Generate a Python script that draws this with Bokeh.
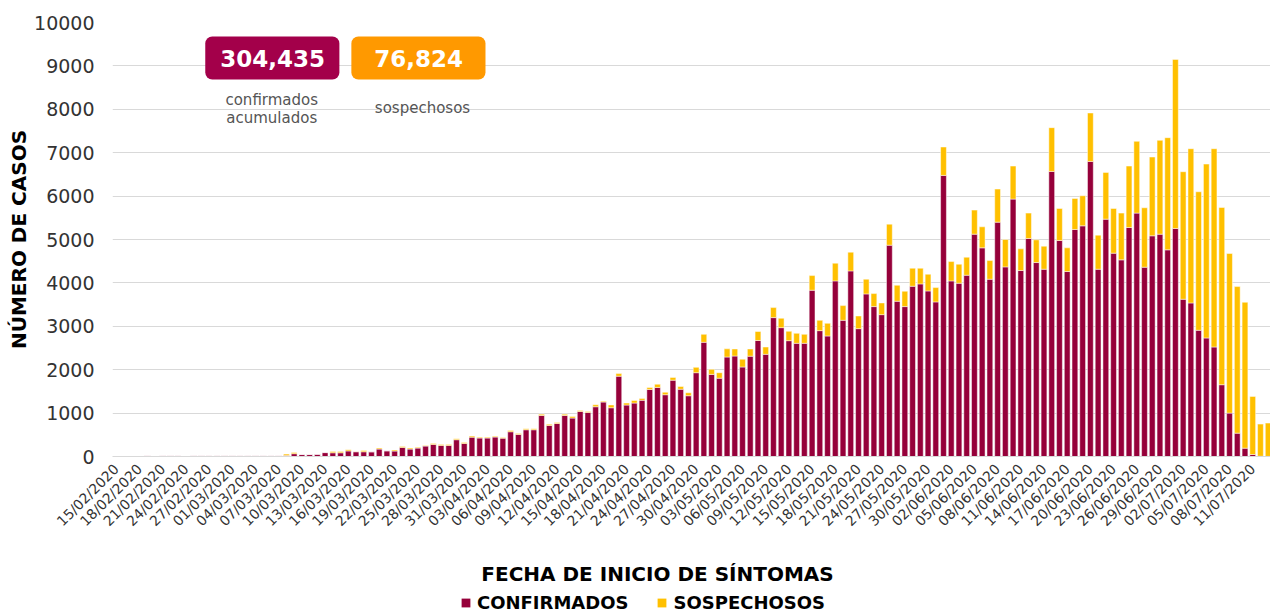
from bokeh.plotting import figure
from bokeh.layouts import column
from bokeh.models import (ColumnDataSource, FixedTicker, Legend, LegendItem,
                          Label, BoxAnnotation, Range1d)
from bokeh.embed import file_html
from bokeh.resources import INLINE

# ---------------- data ----------------
confirmados = [
    0, 0, 0, 0, 20, 0, 20, 20, 20, 0,
    20, 20, 20, 20, 20, 20, 20, 20, 20, 20,
    20, 20, 25, 65, 45, 45, 50, 90, 86, 86,
    128, 109, 109, 108, 170, 131, 125, 210, 170, 193,
    240, 279, 256, 256, 387, 302, 446, 425, 425, 448,
    423, 570, 508, 616, 616, 946, 716, 762, 946, 885,
    1038, 1015, 1146, 1254, 1123, 1850, 1185, 1231, 1296, 1546,
    1592, 1423, 1758, 1550, 1400, 1931, 2631, 1892, 1804, 2292,
    2315, 2062, 2311, 2673, 2354, 3200, 2969, 2669, 2608, 2608,
    3831, 2900, 2777, 4046, 3138, 4277, 2946, 3746, 3454, 3269,
    4869, 3577, 3454, 3923, 3977, 3815, 3562, 6477, 4046, 3992,
    4177, 5123, 4808, 4085, 5400, 4369, 5931, 4285, 5023, 4469,
    4315, 6569, 4977, 4262, 5231, 5315, 6800, 4315, 5469, 4685,
    4531, 5277, 5608, 4362, 5085, 5123, 4762, 5254, 3623, 3538,
    2908, 2731, 2523, 1654, 1000, 538, 192, 46, 5, 2,
]
sospechosos = [
    0, 0, 0, 0, 0, 0, 0, 0, 0, 0,
    0, 0, 0, 0, 0, 0, 0, 0, 0, 0,
    0, 0, 30, 29, 2, 2, 2, 4, 31, 31,
    28, 6, 28, 2, 24, 2, 25, 23, 24, 20,
    12, 23, 23, 23, 23, 23, 24, 21, 21, 20,
    17, 30, 20, 24, 24, 29, 26, 23, 29, 35,
    24, 23, 46, 21, 65, 60, 46, 61, 42, 44,
    73, 57, 65, 62, 69, 123, 184, 116, 127, 188,
    162, 180, 166, 207, 169, 231, 216, 216, 230, 207,
    338, 238, 292, 408, 339, 431, 292, 339, 300, 269,
    485, 369, 354, 415, 361, 385, 330, 654, 446, 439,
    415, 554, 484, 430, 762, 631, 761, 500, 585, 523,
    531, 1008, 738, 546, 715, 693, 1115, 785, 1077, 1030,
    1077, 1415, 1654, 1369, 1815, 2162, 2584, 3896, 2939, 3554,
    3192, 4007, 4569, 4084, 3677, 3377, 3362, 1339, 741, 768,
]
dia = list(range(len(confirmados)))  # day index from 15/02/2020

tick_labels = [
    "15/02/2020", "18/02/2020", "21/02/2020", "24/02/2020", "27/02/2020",
    "01/03/2020", "04/03/2020", "07/03/2020", "10/03/2020", "13/03/2020",
    "16/03/2020", "19/03/2020", "22/03/2020", "25/03/2020", "28/03/2020",
    "31/03/2020", "03/04/2020", "06/04/2020", "09/04/2020", "12/04/2020",
    "15/04/2020", "18/04/2020", "21/04/2020", "24/04/2020", "27/04/2020",
    "30/04/2020", "03/05/2020", "06/05/2020", "09/05/2020", "12/05/2020",
    "15/05/2020", "18/05/2020", "21/05/2020", "24/05/2020", "27/05/2020",
    "30/05/2020", "02/06/2020", "05/06/2020", "08/06/2020", "11/06/2020",
    "14/06/2020", "17/06/2020", "20/06/2020", "23/06/2020", "26/06/2020",
    "29/06/2020", "02/07/2020", "05/07/2020", "08/07/2020", "11/07/2020",
]
tick_pos = [3 * i for i in range(len(tick_labels))]

total_confirmados = "304,435"
total_sospechosos = "76,824"

# ---------------- style ----------------
MAROON = "#96003A"
YELLOW = "#FFC000"
BOX_MAROON = "#A3004A"
BOX_ORANGE = "#FF9900"
FONT = "DejaVu Sans"

source = ColumnDataSource(dict(dia=dia, confirmados=confirmados, sospechosos=sospechosos))

p = figure(width=1270, height=540, output_backend="svg", toolbar_location=None,
           x_range=Range1d(-0.5, 149.3), y_range=Range1d(0, 10000),
           min_border_left=112, min_border_right=0, min_border_top=22,
           min_border_bottom=84, outline_line_color=None)

r = p.vbar_stack(["confirmados", "sospechosos"], x="dia", width=0.75, source=source,
                 color=[MAROON, YELLOW], line_color="white", line_width=0.8, line_alpha=0.6)

# axes
p.xaxis.ticker = FixedTicker(ticks=tick_pos)
p.xaxis.major_label_overrides = {t: l for t, l in zip(tick_pos, tick_labels)}
p.xaxis.major_label_orientation = 0.785398
p.xaxis.major_label_text_font = FONT
p.xaxis.major_label_text_font_size = "14px"
p.xaxis.major_label_text_color = "#333333"
p.xaxis.major_tick_line_color = None
p.xaxis.minor_tick_line_color = None
p.xaxis.axis_line_color = "#d9d9d9"
p.xaxis.major_label_standoff = 4

p.yaxis.ticker = FixedTicker(ticks=list(range(0, 10001, 1000)))
p.yaxis.major_label_text_font = FONT
p.yaxis.major_label_text_font_size = "19px"
p.yaxis.major_label_text_color = "#333333"
p.yaxis.major_tick_line_color = None
p.yaxis.minor_tick_line_color = None
p.yaxis.axis_line_color = None
p.yaxis.major_label_standoff = 12
p.yaxis.axis_label = "NÚMERO DE CASOS"
p.yaxis.axis_label_text_font = FONT
p.yaxis.axis_label_text_font_size = "20px"
p.yaxis.axis_label_text_font_style = "bold"
p.yaxis.axis_label_text_color = "#000000"
p.yaxis.axis_label_standoff = 0

p.xgrid.grid_line_color = None
p.ygrid.grid_line_color = "#d9d9d9"
p.ygrid.grid_line_width = 1.2

# summary boxes
b1 = BoxAnnotation(left=11.5, right=28.85, bottom=8687, top=9677, fill_color=BOX_MAROON,
                   fill_alpha=1, line_color=None, border_radius=7)
b2 = BoxAnnotation(left=30.4, right=47.75, bottom=8687, top=9677, fill_color=BOX_ORANGE,
                   fill_alpha=1, line_color=None, border_radius=7)
p.add_layout(b1)
p.add_layout(b2)

p.add_layout(Label(x=20.2, y=9170, text=total_confirmados, text_align="center",
                   text_baseline="middle", text_color="white", text_font=FONT,
                   text_font_size="23px", text_font_style="bold"))
p.add_layout(Label(x=39.1, y=9170, text=total_sospechosos, text_align="center",
                   text_baseline="middle", text_color="white", text_font=FONT,
                   text_font_size="23px", text_font_style="bold"))
for txt, xx, yy in [("confirmados", 20.1, 8210), ("acumulados", 20.1, 7795),
                    ("sospechosos", 39.6, 8040)]:
    p.add_layout(Label(x=xx, y=yy, text=txt, text_align="center", text_baseline="middle",
                       text_color="#555555", text_font=FONT, text_font_size="15px"))

# strip under the chart: x-axis title and legend (pixel-like coordinates)
p2 = figure(width=1270, height=72, output_backend="svg", toolbar_location=None,
            x_range=Range1d(112, 1270), y_range=Range1d(612, 540),
            x_axis_location=None, y_axis_location=None, outline_line_color=None,
            min_border_left=112, min_border_right=0, min_border_top=0, min_border_bottom=0)
p2.grid.visible = False
p2.extra_x_ranges = {"off": Range1d(-1000, -999)}
r2 = p2.vbar_stack(["confirmados", "sospechosos"], x="dia", width=0.75, source=source,
                   color=[MAROON, YELLOW], line_color=None, x_range_name="off")

p2.add_layout(Label(x=657, y=573, text="FECHA DE INICIO DE SÍNTOMAS", text_align="center",
                    text_baseline="middle", text_color="#000000", text_font=FONT,
                    text_font_size="20px", text_font_style="bold"))

legend = Legend(items=[LegendItem(label="CONFIRMADOS", renderers=[r2[0]]),
                       LegendItem(label="SOSPECHOSOS", renderers=[r2[1]])],
                orientation="horizontal", location=(348, -1),
                border_line_color=None, background_fill_alpha=0,
                label_text_font=FONT, label_text_font_size="18px",
                label_text_font_style="bold", label_text_color="#000000",
                glyph_width=11, glyph_height=11, label_standoff=6, spacing=28,
                padding=0, margin=0)
p2.add_layout(legend)

layout = column(p, p2, spacing=0)
open("out.html", "w").write(file_html(layout, INLINE))
